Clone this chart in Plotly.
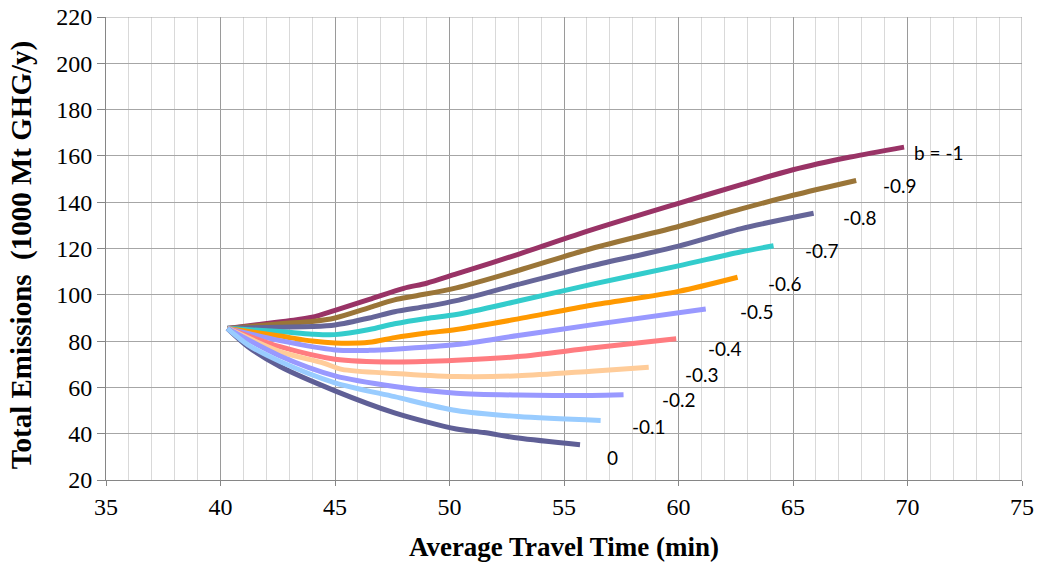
import plotly.graph_objects as go

# ---- data ----
b_labels = ["b = -1", "-0.9", "-0.8", "-0.7", "-0.6", "-0.5", "-0.4", "-0.3", "-0.2", "-0.1", "0"]

x_b10 = [40.3, 41.5, 43, 44, 45, 46.5, 48, 49, 50.3, 53, 56.2, 60, 62.7, 65, 67.5, 69.85]
y_b10 = [85.5, 87, 88.8, 90.3, 93.3, 98, 102.8, 105, 109, 117.5, 128, 139.5, 147.5, 154, 159.5, 163.8]

x_b09 = [40.3, 42.6, 44, 45, 46.5, 47.6, 48.5, 50.3, 53, 56.2, 60, 62.7, 65, 67.76]
y_b09 = [85.5, 87.5, 88.5, 90, 94.5, 97.8, 99.5, 103, 110.5, 120, 129.5, 137, 143, 149.4]

x_b08 = [40.3, 42.6, 44, 45, 46.5, 47.6, 49, 50.3, 53, 56.2, 60, 62.7, 65.9]
y_b08 = [85.5, 86, 86.3, 87, 90, 92.7, 95, 97.5, 104.5, 112.5, 121, 128.5, 135.2]

x_b07 = [40.3, 42.6, 44, 45, 46.5, 47.6, 49, 50.3, 53, 56.2, 60, 62.7, 64.15]
y_b07 = [85.5, 84.1, 83, 82.8, 85, 87.5, 89.8, 91.5, 97.3, 104.5, 112.5, 118.5, 121.2]

x_b06 = [40.3, 42.6, 44, 45, 46.5, 47.6, 49, 50.3, 53, 56.2, 60, 62.58]
y_b06 = [85.5, 82.2, 80, 79.2, 79.5, 81.5, 83.5, 85, 89.6, 95.5, 101.5, 107.6]

x_b05 = [40.3, 42.6, 45, 46.5, 47.6, 50.3, 53, 56.2, 61.19]
y_b05 = [85.5, 80.2, 76.2, 76, 76.5, 78.5, 82.4, 87, 93.9]

x_b04 = [40.3, 42.6, 45, 47.6, 50.3, 53, 56.2, 59.9]
y_b04 = [85.5, 77.6, 72.2, 71, 71.7, 73.3, 77, 81]

x_b03 = [40.3, 42.6, 44.5, 45.3, 47.6, 50.3, 53, 56.2, 58.7]
y_b03 = [85.5, 75.5, 70.5, 67.8, 66, 64.7, 65, 67, 68.7]

x_b02 = [40.3, 42.6, 45, 47.6, 50.3, 53, 56.2, 57.6]
y_b02 = [85.5, 73.6, 65, 60.4, 57.5, 56.7, 56.5, 56.8]

x_b01 = [40.3, 41.2, 42.6, 45, 47.6, 50.3, 53, 56.6]
y_b01 = [85.5, 78.4, 71.2, 62, 56, 50, 47.4, 45.7]

x_b00 = [40.3, 41.2, 42.6, 45, 47.6, 50.3, 51.5, 53, 55.7]
y_b00 = [85.5, 77.6, 69, 58.5, 49, 42, 40.5, 38.1, 35.2]

label_x = [70.2, 68.85, 67.1, 65.45, 63.8, 62.6, 61.2, 60.2, 59.2, 57.9, 56.8]
label_y = [161.6, 147.3, 133.5, 119.3, 105, 92.6, 77, 65.4, 54.6, 43, 29.6]

x_ticks = [35, 40, 45, 50, 55, 60, 65, 70, 75]
y_ticks = [20, 40, 60, 80, 100, 120, 140, 160, 180, 200, 220]

x_title = "Average Travel Time (min)"
y_title = "Total Emissions  (1000 Mt GHG/y)"

colors = ["#993366", "#9A7538", "#666699", "#33CCCC", "#FF9900", "#9999FF",
          "#FF7C80", "#FFCC99", "#9999FF", "#99CCFF", "#5F5F96"]

series = [(x_b10, y_b10), (x_b09, y_b09), (x_b08, y_b08), (x_b07, y_b07),
          (x_b06, y_b06), (x_b05, y_b05), (x_b04, y_b04), (x_b03, y_b03),
          (x_b02, y_b02), (x_b01, y_b01), (x_b00, y_b00)]

fig = go.Figure()
order = [0, 1, 2, 3, 4, 5, 6, 7, 8, 10, 9]
for i in order:
    xs, ys = series[i]
    fig.add_trace(go.Scatter(x=xs, y=ys, mode="lines", name=b_labels[i],
                             line=dict(color=colors[i], width=5, shape="spline", smoothing=0.8),
                             showlegend=False, hoverinfo="x+y"))

for lab, lx, ly in zip(b_labels, label_x, label_y):
    fig.add_annotation(x=lx, y=ly, text=lab, showarrow=False, xanchor="left", yanchor="middle",
                       font=dict(family="Lato", size=19, color="#000000"))

serif = "Liberation Serif"
# y-axis title as a rotated annotation so its centre matches the reference
fig.add_annotation(xref="paper", yref="paper", x=-0.0915, y=0.486, text="<b>" + y_title + "</b>",
                   textangle=-90, showarrow=False, xanchor="center", yanchor="middle",
                   font=dict(family=serif, size=29, color="#000"))

fig.update_layout(
    width=1039, height=569,
    margin=dict(l=106, r=17, t=17, b=89),
    font=dict(family=serif, color="#000"),
    paper_bgcolor="white", plot_bgcolor="white",
    xaxis=dict(range=[35, 75], tickvals=x_ticks, ticks="outside", ticklen=5, tickcolor="#868686",
               showgrid=True, gridcolor="#9A9A9A", gridwidth=1, automargin=False,
               ticklabeloverflow="allow",
               minor=dict(dtick=1, showgrid=True, gridcolor="#D9D9D9", gridwidth=1),
               showline=True, linecolor="#868686", linewidth=1, zeroline=False,
               tickfont=dict(family=serif, size=24, color="#000"),
               title=dict(text="<b>" + x_title + "</b>", font=dict(family=serif, size=27, color="#000"),
                          standoff=18)),
    yaxis=dict(range=[20, 220], tickvals=y_ticks, ticks="outside", ticklen=8, tickcolor="#868686",
               showgrid=True, gridcolor="#A6A6A6", gridwidth=1, automargin=False,
               ticklabeloverflow="allow",
               showline=True, linecolor="#868686", linewidth=1, zeroline=False,
               tickfont=dict(family=serif, size=24, color="#000")),
)
fig.add_shape(type="line", xref="x", yref="paper", x0=75, x1=75, y0=0, y1=1,
              line=dict(color="#9A9A9A", width=1))
fig.add_shape(type="line", xref="paper", yref="y", x0=0, x1=1, y0=220, y1=220,
              line=dict(color="#A6A6A6", width=1))

fig.write_html("out.html", config={"displayModeBar": False},
               post_script="document.body.style.margin='0';")
